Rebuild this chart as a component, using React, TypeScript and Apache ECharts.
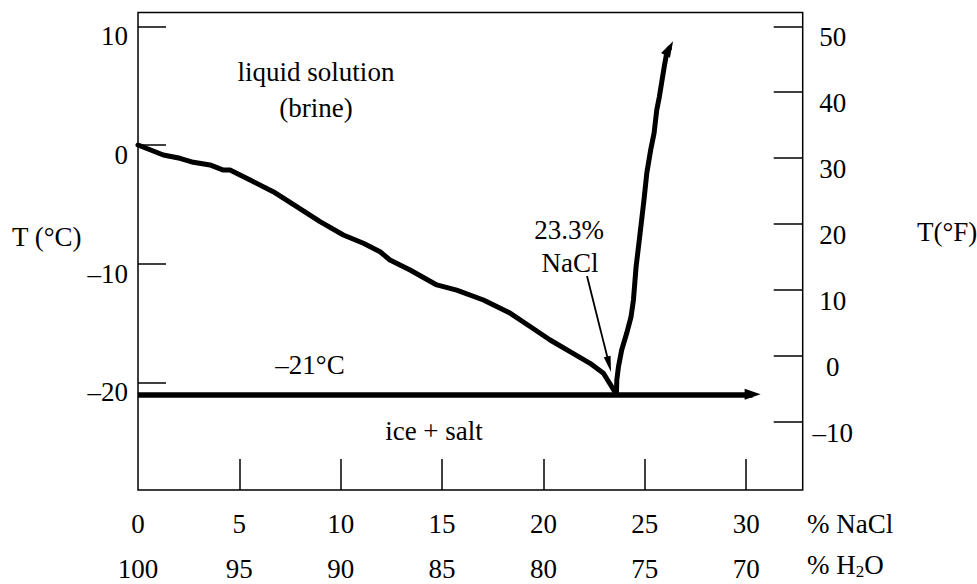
import React, { useEffect, useRef } from 'react';
import * as echarts from 'echarts';

// ---- tick values / labels ----
const naclTicks = [0, 5, 10, 15, 20, 25, 30];
const naclTickMarks = [5, 10, 15, 20, 25, 30];
const h2oTickLabels = ['100', '95', '90', '85', '80', '75', '70'];
const celsiusTicks = [10, 0, -10, -20];
const celsiusTickLabels = ['10', '0', '–10', '–20'];
const fahrenheitTicks = [50, 40, 30, 20, 10, 0, -10];
const fahrenheitTickLabels = ['50', '40', '30', '20', '10', '0', '–10'];

// ---- liquidus curve (% NaCl, °C) ----
const liquidusNaCl = [
  0, 1.25, 2.07, 2.73, 3.55, 4.21, 4.54, 5.53, 6.67, 7.83, 8.98, 10.13, 11.12, 11.94,
  12.43, 13.42, 14.74, 15.72, 17.04, 18.37, 19.36, 20.33, 21.31, 22.3, 22.96, 23.6,
  23.62, 23.7, 23.86, 24.11, 24.32, 24.44, 24.57, 24.77, 24.96, 25.1, 25.29, 25.46,
  25.59, 25.72, 25.96, 26.08, 26.21,
];
const liquidusTempC = [
  0, -0.84, -1.12, -1.46, -1.68, -2.11, -2.11, -2.95, -3.93, -5.2, -6.46, -7.58, -8.28, -8.99,
  -9.69, -10.53, -11.79, -12.22, -13.06, -14.18, -15.31, -16.43, -17.41, -18.39, -19.23, -21.0,
  -19.8, -18.7, -17.27, -15.84, -14.49, -13.06, -10.28, -7.41, -4.63, -2.36, -0.42, 1.01,
  2.95, 4.07, 6.6, 7.73, 8.14,
];
const tipArrowNaCl = [26.08, 26.21];
const tipArrowTempC = [7.73, 8.14];

// eutectic line at -21 °C
const eutecticTempC = -21;
const eutecticLineNaCl = [0, 30.32];

// pointer to the eutectic composition
const pointerNaCl = [22.15, 23.24];
const pointerTempC = [-11.04, -18.47];

// axis ranges
const xMin = 0;
const xMax = 32.79;
const yMinC = -29.065;
const yMaxC = 11.163;
const toF = (c: number) => c * 1.8 + 32;

const FONT = 'Liberation Serif';
const FS = 27;

export default function App() {
  const ref = useRef<HTMLDivElement>(null);

  useEffect(() => {
    if (!ref.current) return;
    const chart = echarts.init(ref.current, undefined, { renderer: 'svg' });
    const liquidus = liquidusNaCl.map((x, i) => [x, liquidusTempC[i]]);
    const txt = (text: string, x: number, y: number, align = 'center') => ({
      type: 'text',
      z: 100,
      style: {
        text,
        x,
        y,
        align,
        verticalAlign: 'middle',
        fontFamily: FONT,
        fontSize: FS,
        fill: '#000',
      },
    });

    chart.setOption({
      animation: false,
      backgroundColor: '#fff',
      grid: {
        left: 138,
        right: 174.3,
        top: 12.5,
        bottom: 94,
        show: true,
        borderColor: '#000',
        borderWidth: 1.5,
        backgroundColor: 'transparent',
      },
      xAxis: [
        {
          type: 'value',
          min: xMin,
          max: xMax,
          position: 'bottom',
          splitLine: { show: false },
          axisLine: { show: false, onZero: false },
          axisTick: {
            show: true,
            inside: true,
            length: 31,
            customValues: naclTickMarks,
            lineStyle: { color: '#000', width: 1.5 },
          },
          axisLabel: {
            customValues: naclTicks,
            margin: 20,
            color: '#000',
            fontFamily: FONT,
            fontSize: FS,
            formatter: (v: number) => String(v),
          },
        },
        {
          type: 'value',
          min: xMin,
          max: xMax,
          position: 'bottom',
          offset: 45,
          splitLine: { show: false },
          axisLine: { show: false, onZero: false },
          axisTick: { show: false },
          axisLabel: {
            customValues: naclTicks,
            margin: 20,
            color: '#000',
            fontFamily: FONT,
            fontSize: FS,
            formatter: (v: number) => h2oTickLabels[naclTicks.indexOf(v)] ?? '',
          },
        },
      ],
      yAxis: [
        {
          type: 'value',
          min: yMinC,
          max: yMaxC,
          position: 'left',
          splitLine: { show: false },
          axisLine: { show: false, onZero: false },
          axisTick: {
            show: true,
            inside: true,
            length: 28,
            customValues: celsiusTicks,
            lineStyle: { color: '#000', width: 1.5 },
          },
          axisLabel: {
            customValues: celsiusTicks,
            margin: 10,
            verticalAlign: 'top',
            lineHeight: 20,
            color: '#000',
            fontFamily: FONT,
            fontSize: FS,
            formatter: (v: number) => celsiusTickLabels[celsiusTicks.indexOf(v)] ?? '',
          },
        },
        {
          type: 'value',
          min: toF(yMinC),
          max: toF(yMaxC),
          position: 'right',
          splitLine: { show: false },
          axisLine: { show: false, onZero: false },
          axisTick: {
            show: true,
            inside: true,
            length: 29,
            customValues: fahrenheitTicks,
            lineStyle: { color: '#000', width: 1.5 },
          },
          axisLabel: {
            customValues: fahrenheitTicks,
            margin: 30,
            align: 'center',
            verticalAlign: 'top',
            lineHeight: 22,
            color: '#000',
            fontFamily: FONT,
            fontSize: FS,
            formatter: (v: number) => fahrenheitTickLabels[fahrenheitTicks.indexOf(v)] ?? '',
          },
        },
      ],
      series: [
        {
          type: 'line',
          name: 'liquidus',
          xAxisIndex: 0,
          yAxisIndex: 0,
          data: liquidus,
          showSymbol: false,
          symbol: 'none',
          smooth: false,
          lineStyle: { color: '#000', width: 5, join: 'round', cap: 'round' },
          z: 5,
        },
        {
          type: 'lines',
          coordinateSystem: 'cartesian2d',
          xAxisIndex: 0,
          yAxisIndex: 0,
          symbol: ['none', 'triangle'],
          symbolSize: [0, [10, 16]],
          lineStyle: { color: '#000', width: 5, curveness: 0, opacity: 1 },
          data: [
            {
              coords: [
                [tipArrowNaCl[0], tipArrowTempC[0]],
                [tipArrowNaCl[1], tipArrowTempC[1]],
              ],
            },
          ],
          z: 6,
        },
        {
          type: 'lines',
          coordinateSystem: 'cartesian2d',
          xAxisIndex: 0,
          yAxisIndex: 0,
          symbol: ['none', 'triangle'],
          symbolSize: [0, [11, 16]],
          lineStyle: { color: '#000', width: 5.5, curveness: 0, opacity: 1 },
          data: [
            {
              coords: [
                [eutecticLineNaCl[0], eutecticTempC],
                [eutecticLineNaCl[1], eutecticTempC],
              ],
            },
          ],
          z: 6,
        },
        {
          type: 'lines',
          coordinateSystem: 'cartesian2d',
          xAxisIndex: 0,
          yAxisIndex: 0,
          symbol: ['none', 'triangle'],
          symbolSize: [0, [7, 16]],
          lineStyle: { color: '#000', width: 1.8, curveness: 0, opacity: 1 },
          data: [
            {
              coords: [
                [pointerNaCl[0], pointerTempC[0]],
                [pointerNaCl[1], pointerTempC[1]],
              ],
            },
          ],
          z: 6,
        },
      ],
      graphic: [
        txt('T (°C)', 12, 237, 'left'),
        txt('T(°F)', 917, 232, 'left'),
        txt('liquid solution', 316, 72),
        txt('(brine)', 316, 108),
        txt('23.3%', 569, 230),
        txt('NaCl', 570, 263),
        txt('–21°C', 310, 365),
        txt('ice + salt', 434, 431),
        txt('% NaCl', 807, 524, 'left'),
        {
          type: 'text',
          z: 100,
          style: {
            text: '{a|% H}{b|2}{a|O}',
            x: 807,
            y: 565,
            align: 'left',
            verticalAlign: 'middle',
            fill: '#000',
            rich: {
              a: { fontFamily: FONT, fontSize: FS, lineHeight: 30, verticalAlign: 'middle', fill: '#000' },
              b: { fontFamily: FONT, fontSize: 17, lineHeight: 30, verticalAlign: 'bottom', fill: '#000' },
            },
          },
        },
      ],
    });

    return () => chart.dispose();
  }, []);

  return (
    <div
      ref={ref}
      style={{ position: 'fixed', left: 0, top: 0, width: 977, height: 584, background: '#fff' }}
    />
  );
}
